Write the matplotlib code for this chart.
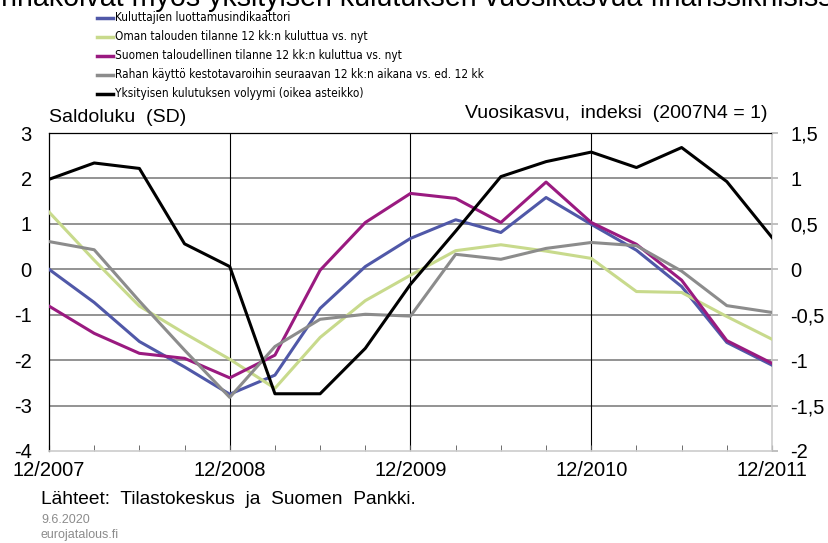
import matplotlib
matplotlib.use("Agg")
import matplotlib.pyplot as plt
import matplotlib.font_manager as fm
from matplotlib.lines import Line2D

plt.rcParams['font.family'] = ['Liberation Sans', 'DejaVu Sans']

quarters = ["12/2007", "3/2008", "6/2008", "9/2008", "12/2008", "3/2009", "6/2009", "9/2009",
            "12/2009", "3/2010", "6/2010", "9/2010", "12/2010", "3/2011", "6/2011", "9/2011", "12/2011"]
tick_labels = ["12/2007", "12/2008", "12/2009", "12/2010", "12/2011"]

luottamus = [0.0, -0.73, -1.59, -2.15, -2.75, -2.33, -0.86, 0.06, 0.68, 1.09, 0.81, 1.58, 0.99, 0.42, -0.38, -1.61, -2.11]
oma_talous = [1.26, 0.2, -0.81, -1.41, -1.98, -2.62, -1.50, -0.69, -0.13, 0.41, 0.54, 0.40, 0.24, -0.49, -0.51, -1.04, -1.54]
suomen_talous = [-0.81, -1.41, -1.85, -1.96, -2.39, -1.89, -0.02, 1.03, 1.67, 1.56, 1.03, 1.92, 1.03, 0.55, -0.24, -1.57, -2.07]
rahan_kaytto = [0.61, 0.43, -0.70, -1.78, -2.82, -1.70, -1.10, -0.99, -1.03, 0.33, 0.22, 0.46, 0.59, 0.52, -0.04, -0.80, -0.95]
kulutus = [0.99, 1.17, 1.11, 0.28, 0.03, -1.37, -1.37, -0.87, -0.165, 0.42, 1.02, 1.185, 1.29, 1.12, 1.34, 0.965, 0.35]

names = ["Kuluttajien luottamusindikaattori",
         "Oman talouden tilanne 12 kk:n kuluttua vs. nyt",
         "Suomen taloudellinen tilanne 12 kk:n kuluttua vs. nyt",
         "Rahan käyttö kestotavaroihin seuraavan 12 kk:n aikana vs. ed. 12 kk",
         "Yksityisen kulutuksen volyymi (oikea asteikko)"]
colors = ["#5058A8", "#C8DA8C", "#9A1A80", "#8C8C8C", "#000000"]

# choose a narrow font for the legend if one is installed
leg_font = {'family': ['Liberation Sans', 'DejaVu Sans'], 'size': 7.8}
font_names = {f.name for f in fm.fontManager.ttflist}
cond = [(f.name) for f in fm.fontManager.ttflist
        if f.stretch in ('condensed', 'semi-condensed') and f.style == 'normal' and f.weight in (400, 'normal', 'regular')]
if 'Liberation Sans Narrow' in font_names:
    leg_font = {'family': ['Liberation Sans Narrow', 'DejaVu Sans'], 'size': 10}
elif cond:
    leg_font = {'family': [cond[0], 'DejaVu Sans'], 'size': 8.5, 'stretch': 'condensed'}

fig = plt.figure(figsize=(8.29, 5.43), dpi=100)
ax = fig.add_axes([49/829, 1-451/543, (772-49)/829, (451-133)/543])
x = list(range(len(quarters)))

ax.set_xlim(0, len(quarters)-1)
ax.set_ylim(-4, 3)
ax.set_yticks(range(-4, 4))
ax.set_yticklabels([str(v) for v in range(-4, 4)], fontsize=14.5)
ax.tick_params(axis='y', length=0, pad=12.5)
for v in range(-3, 3):
    ax.axhline(v, color="#8a8a8a", lw=1.3, zorder=1)
for i in (4, 8, 12):
    ax.axvline(i, color="#000000", lw=0.8, zorder=1)

ax.set_xticks(x, minor=True)
ax.set_xticks([0, 4, 8, 12, 16])
ax.set_xticklabels(tick_labels, fontsize=14.5)
ax.tick_params(axis='x', which='both', direction='in', length=4, color="#555555", pad=7.5)

for s in ('top', 'left'):
    ax.spines[s].set_color("#000000")
    ax.spines[s].set_linewidth(0.9)
for s in ('bottom', 'right'):
    ax.spines[s].set_color("#cccccc")
    ax.spines[s].set_linewidth(1.2)

lw = 2.2
series = [luottamus, oma_talous, suomen_talous, rahan_kaytto]
for vals, c in zip(series, colors[:4]):
    ax.plot(x, vals, color=c, lw=lw, zorder=3)

ax2 = ax.twinx()
ax2.set_ylim(-2, 1.5)
ax2.set_yticks([-2, -1.5, -1, -0.5, 0, 0.5, 1, 1.5])
ax2.set_yticklabels(["-2", "-1,5", "-1", "-0,5", "0", "0,5", "1", "1,5"], fontsize=14.5)
ax2.tick_params(axis='y', length=4.5, width=1.3, color="#bbbbbb", pad=8.5)
for s in ax2.spines.values():
    s.set_visible(False)
ax2.plot(x, kulutus, color=colors[4], lw=lw, zorder=4)

fig.text(49/829, 1-117/543, "Saldoluku  (SD)", fontsize=14, va='center', ha='left')
fig.text(768/829, 1-114/543, "Vuosikasvu,  indeksi  (2007N4 = 1)", fontsize=14, va='center', ha='right')

fig.text(-18/829, 1-6/543, "Ennakoivat myös yksityisen kulutuksen vuosikasvua finanssikriisissä",
         fontsize=20.6, va='baseline', ha='left')

for i, (name, c) in enumerate(zip(names, colors)):
    yy = 1 - (17.5 + 19*i)/543
    fig.add_artist(Line2D([97/829, 113/829], [yy, yy], color=c, lw=2.5, transform=fig.transFigure))
    fig.text(115/829, yy, name, va='center', ha='left', fontdict=leg_font)

fig.text(41/829, 1-500/543, "Lähteet:  Tilastokeskus  ja  Suomen  Pankki.", fontsize=13.8, va='center', ha='left')
fig.text(41/829, 1-520/543, "9.6.2020", fontsize=9, color="#8c8c8c", va='center', ha='left')
fig.text(41/829, 1-535/543, "eurojatalous.fi", fontsize=9, color="#8c8c8c", va='center', ha='left')

fig.savefig("out.png", dpi=100)
